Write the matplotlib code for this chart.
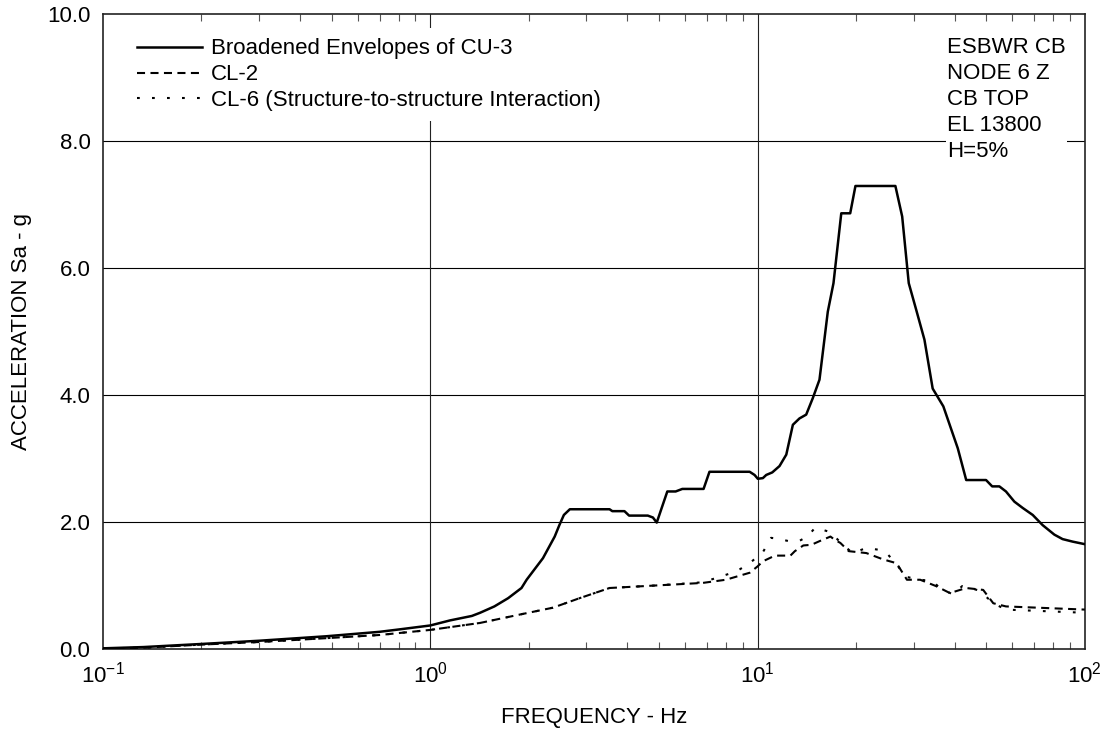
import matplotlib
matplotlib.use("Agg")
import matplotlib.pyplot as plt
import matplotlib.ticker as ticker

plt.rcParams['font.family'] = ['Liberation Sans', 'DejaVu Sans']
plt.rcParams['mathtext.default'] = 'regular'
plt.rcParams['lines.scale_dashes'] = False

# Broadened Envelopes of CU-3
freq_cu3 = [0.1, 0.133, 0.202, 0.301, 0.481, 0.70, 0.81, 1.0, 1.15, 1.34, 1.42, 1.57, 1.73,
            1.90, 1.97, 2.21, 2.40, 2.48, 2.56, 2.67, 3.53, 3.60, 3.92, 4.05, 4.62, 4.79,
            4.92, 5.11, 5.30, 5.62, 5.89, 6.84, 7.13, 9.46, 9.79, 10.02, 10.38, 10.63,
            11.09, 11.67, 12.24, 12.82, 13.43, 14.08, 14.75, 15.46, 16.39, 17.06, 18.02,
            19.19, 19.91, 26.37, 27.66, 28.97, 30.53, 32.35, 34.28, 36.95, 40.9, 43.4,
            49.9, 52.1, 54.8, 57.4, 60.9, 64.6, 69.3, 74.3, 80.7, 85.5, 91.8, 100]
sa_cu3 = [0.01, 0.03, 0.08, 0.13, 0.20, 0.27, 0.31, 0.37, 0.45, 0.52, 0.57, 0.67, 0.80,
          0.96, 1.09, 1.43, 1.77, 1.95, 2.11, 2.20, 2.20, 2.17, 2.17, 2.10, 2.10, 2.07,
          1.99, 2.24, 2.48, 2.48, 2.52, 2.52, 2.79, 2.79, 2.74, 2.68, 2.69, 2.74,
          2.78, 2.88, 3.06, 3.53, 3.63, 3.69, 3.95, 4.24, 5.31, 5.76, 6.86,
          6.86, 7.29, 7.29, 6.81, 5.76, 5.34, 4.87, 4.10, 3.82, 3.16, 2.66,
          2.66, 2.56, 2.56, 2.48, 2.32, 2.22, 2.11, 1.95, 1.80, 1.73, 1.69, 1.65]

# CL-2
freq_cl2 = [0.1, 0.133, 0.202, 0.301, 0.481, 0.70, 1.0, 1.42, 1.87, 2.37, 2.86, 3.53, 4.9,
            6.8, 8.0, 9.46, 10.0, 10.38, 11.3, 12.6, 13.0, 13.8, 14.6, 15.5, 16.7, 17.2,
            17.9, 19.0, 21.5, 24.2, 26.6, 28.6, 31.4, 35.1, 38.7, 43.4, 48.9, 52.5, 57.4,
            80.1, 100]
sa_cl2 = [0.01, 0.02, 0.07, 0.11, 0.17, 0.22, 0.30, 0.41, 0.54, 0.65, 0.80, 0.96, 1.00,
          1.04, 1.09, 1.20, 1.30, 1.38, 1.47, 1.47, 1.54, 1.63, 1.64, 1.70, 1.77, 1.72,
          1.67, 1.54, 1.51, 1.41, 1.35, 1.09, 1.09, 0.99, 0.88, 0.96, 0.93, 0.72, 0.67,
          0.64, 0.62]

# CL-6 (Structure-to-structure Interaction)
freq_cl6 = [0.1, 0.133, 0.202, 0.301, 0.481, 0.70, 1.0, 1.42, 1.87, 2.37, 2.86, 3.53, 4.9,
            6.8, 8.61, 9.46, 10.4, 11.0, 11.7, 12.4, 13.4, 14.2, 15.0, 16.7, 17.9, 19.5,
            21.5, 23.6, 25.0, 26.9, 28.2, 31.4, 34.3, 36.0, 39.5, 42.2, 47.6, 52.5, 57.4,
            80.0, 100]
sa_cl6 = [0.01, 0.02, 0.07, 0.11, 0.17, 0.22, 0.30, 0.41, 0.54, 0.65, 0.80, 0.96, 1.00,
          1.05, 1.22, 1.35, 1.53, 1.75, 1.73, 1.70, 1.70, 1.77, 1.91, 1.84, 1.68, 1.51,
          1.59, 1.56, 1.49, 1.30, 1.14, 1.09, 1.07, 0.96, 0.86, 0.99, 0.92, 0.72, 0.62,
          0.59, 0.57]

labels = ["Broadened Envelopes of CU-3", "CL-2", "CL-6 (Structure-to-structure Interaction)"]
note = "ESBWR CB\nNODE 6 Z\nCB TOP\nEL 13800\nH=5%"

FS = 16

fig = plt.figure(figsize=(11.07, 7.30), dpi=100)
ax = fig.add_axes([0.093, 0.111, 0.887, 0.870])

ax.plot(freq_cu3, sa_cu3, color='black', lw=1.8, label=labels[0], zorder=5)
ax.plot(freq_cl2, sa_cl2, color='black', lw=1.5, linestyle=(0, (5.8, 3.9)), label=labels[1], zorder=4)
ax.plot(freq_cl6, sa_cl6, color='black', lw=1.5, linestyle=(0, (2.0, 8.8)), label=labels[2], zorder=4)

ax.set_xscale('log')
ax.set_xlim(0.1, 100)
ax.set_ylim(0, 10)

ax.set_yticks([0, 2, 4, 6, 8, 10])
ax.yaxis.set_major_formatter(ticker.FormatStrFormatter('%.1f'))
ax.set_xticks([0.1, 1, 10, 100])
ax.set_xticklabels(['$10^{-1}$', '$10^{0}$', '$10^{1}$', '$10^{2}$'])
ax.xaxis.set_minor_locator(ticker.LogLocator(base=10, subs=range(2, 10), numticks=20))
ax.xaxis.set_minor_formatter(ticker.NullFormatter())

ax.tick_params(axis='both', which='major', labelsize=FS, length=0)
ax.tick_params(axis='y', pad=9)
ax.tick_params(axis='x', pad=9)
ax.tick_params(axis='x', which='minor', direction='in', length=5, width=0.8,
               color='#555555', top=True, bottom=True)

for y in [2, 4, 6, 8]:
    ax.axhline(y, color='black', lw=0.8, zorder=1)
for x in [1, 10]:
    ax.axvline(x, color='#222222', lw=0.8, zorder=1)

for s in ax.spines.values():
    s.set_linewidth(1.2)
    s.set_color('#222222')

ax.set_xlabel("FREQUENCY - Hz", fontsize=FS, labelpad=14)
ax.set_ylabel("ACCELERATION Sa - g", fontsize=FS, labelpad=11)

leg = ax.legend(loc='upper left', bbox_to_anchor=(0.025, 0.977), fontsize=FS,
                handlelength=2.9, handletextpad=0.4, labelspacing=0.22,
                borderaxespad=0.0, frameon=True, fancybox=False, borderpad=0.45)
leg.get_frame().set_edgecolor('none')
leg.get_frame().set_facecolor('white')
leg.get_frame().set_alpha(1)
leg.set_zorder(10)

ax.text(0.860, 0.963, note, transform=ax.transAxes, fontsize=FS, va='top', ha='left',
        linespacing=1.3, zorder=10,
        bbox=dict(facecolor='white', edgecolor='none', pad=1))

fig.savefig("out.png", dpi=100)
